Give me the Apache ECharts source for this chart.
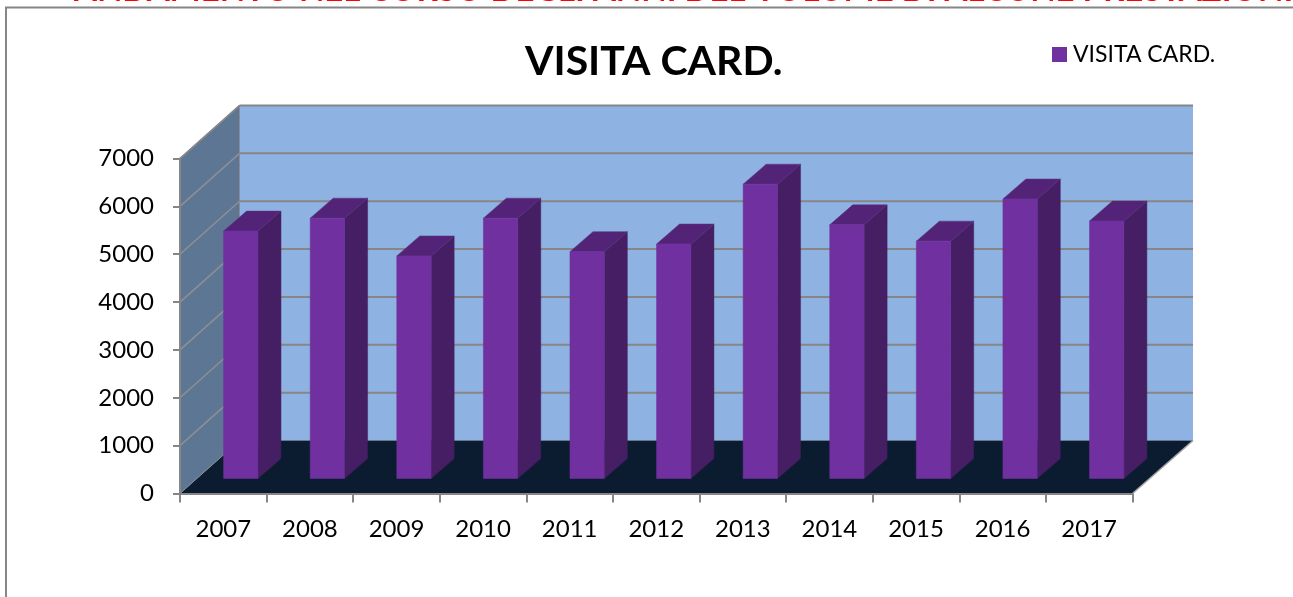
<!DOCTYPE html>
<html><head><meta charset="utf-8">
<style>html,body{margin:0;padding:0;background:#fff;overflow:hidden}#c{width:1293px;height:597px}</style>
<script src="https://cdn.jsdelivr.net/npm/echarts@6/dist/echarts.min.js"></script>
</head><body><div id="c"></div>
<script>
const categories = ['2007','2008','2009','2010','2011','2012','2013','2014','2015','2016','2017'];
const visitaCard = [5170,5440,4650,5440,4740,4900,6150,5300,4960,5840,5380];
const yTicks = [0,1000,2000,3000,4000,5000,6000,7000];
const seriesName = 'VISITA CARD.';
const pageTitle = 'ANDAMENTO NEL CORSO DEGLI ANNI DEL VOLUME DI ALCUNE PRESTAZIONI';

const WALL_DX = 59.5, WALL_DX_R = 60.5, WALL_DY = -53;
const BAR_DY = -15;
const SIDE_DX = 23, SIDE_DY = -20;
const GRID = '#868686';
const chart = echarts.init(document.getElementById('c'), null, {renderer:'canvas'});

function poly(points, fill, stroke, lw){
  return {type:'polygon', shape:{points}, style:{fill, stroke:stroke||fill, lineWidth:lw===undefined?0.5:lw}};
}
function line(x1,y1,x2,y2,color,w){
  return {type:'line', shape:{x1,y1,x2,y2}, style:{stroke:color,lineWidth:w,fill:null}};
}
function renderFrame(params, api){
  const x0 = params.coordSys.x, w = params.coordSys.width;
  const x1 = x0 + w;
  const y0 = api.coord([0,0])[1], yTop = api.coord([0,7000])[1];
  const ch = [];
  ch.push(poly([[x0+WALL_DX,yTop+WALL_DY],[x1+WALL_DX_R,yTop+WALL_DY],[x1+WALL_DX_R,y0+WALL_DY],[x0+WALL_DX,y0+WALL_DY]],'#8eb3e3','#8eb3e3',0));
  ch.push(poly([[x0,yTop],[x0+WALL_DX,yTop+WALL_DY],[x0+WALL_DX,y0+WALL_DY],[x0,y0]],'#5d7694','#5d7694',0));
  yTicks.forEach(t=>{
    const y = api.coord([0,t])[1];
    if (t>0) ch.push(line(x0+WALL_DX,y+WALL_DY,x1+WALL_DX_R,y+WALL_DY,GRID,2));
    if (t>0) ch.push(line(x0,y,x0+WALL_DX,y+WALL_DY,'#8c9094',1.5));
  });
  ch.push(poly([[x0,y0],[x1,y0],[x1+WALL_DX_R,y0+WALL_DY],[x0+WALL_DX,y0+WALL_DY]],'#0b1c31','#0b1c31',0));
  ch.push(line(x1,y0,x1+WALL_DX_R,y0+WALL_DY,'#a0a0a0',1.5));
  ch.push(line(x0+WALL_DX,y0+WALL_DY,x0,y0,'#8c9094',1));
  ch.push(line(x0+WALL_DX,yTop+WALL_DY,x0+WALL_DX,y0+WALL_DY,'#868686',0.8));
  ch.push(line(x0,yTop,x0+WALL_DX,yTop+WALL_DY,GRID,1.5));
  return {type:'group',children:ch};
}
function renderBar(params, api){
  const idx = api.value(0), val = api.value(1);
  const top = api.coord([idx,val]), base = api.coord([idx,0]);
  const bw = api.size([1,0])[0]*0.397;
  const l = top[0]+0.3, r = l+bw;
  const yt = top[1]+BAR_DY, yb = base[1]+BAR_DY;
  return {type:'group',children:[
    poly([[r,yt],[r+SIDE_DX,yt+SIDE_DY],[r+SIDE_DX,yb+SIDE_DY],[r,yb]],'#451e63','#451e63'),
    poly([[l,yt],[l+SIDE_DX,yt+SIDE_DY],[r+SIDE_DX,yt+SIDE_DY],[r,yt]],'#532377','#5a3583'),
    poly([[l,yt],[r,yt],[r,yb],[l,yb]],'#7030a0','#7030a0')
  ]};
}
chart.setOption({
  animation:false,
  backgroundColor:'#fff',
  title:[
    {text:pageTitle,left:74,top:-26,padding:0,textStyle:{color:'#ff0000',fontFamily:'Lato',fontWeight:'bold',fontSize:33}},
    {text:seriesName,left:525,top:41,padding:0,textStyle:{color:'#000',fontFamily:'Lato',fontWeight:'bold',fontSize:41}}
  ],
  legend:{show:true,left:1052,top:43,padding:0,itemWidth:15,itemHeight:15,itemGap:6,
    data:[{name:seriesName,icon:'rect',itemStyle:{color:'#7030a0'}}],
    textStyle:{color:'#000',fontFamily:'Lato',fontSize:23,padding:[0,0,0,1]}},
  grid:{left:180,top:158.5,width:952.5,height:335,containLabel:false},
  xAxis:{type:'category',data:categories,boundaryGap:true,
    axisLine:{show:true,lineStyle:{color:GRID,width:2}},
    axisTick:{show:true,alignWithLabel:false,length:9,lineStyle:{color:GRID,width:2}},
    axisLabel:{color:'#000',fontFamily:'Lato',fontSize:24,margin:24,interval:0},
    splitLine:{show:false},z:5},
  yAxis:{type:'value',min:0,max:7000,interval:1000,
    axisLine:{show:true,lineStyle:{color:GRID,width:2}},
    axisTick:{show:true,length:7,lineStyle:{color:GRID,width:2}},
    axisLabel:{color:'#000',fontFamily:'Lato',fontSize:24,margin:26,padding:[3,0,0,0],formatter:v=>String(v)},
    splitLine:{show:false},z:5},
  series:[
    {type:'custom',name:'frame',coordinateSystem:'cartesian2d',clip:false,silent:true,z:1,
      renderItem:renderFrame,data:[[0,0]],encode:{x:0,y:1}},
    {type:'custom',name:seriesName,coordinateSystem:'cartesian2d',clip:false,z:2,
      renderItem:renderBar,itemStyle:{color:'#7030a0'},
      data:visitaCard.map((v,i)=>[i,v]),encode:{x:0,y:1}}
  ],
  graphic:[
    {type:'polyline',silent:true,z:0,shape:{points:[[6,597],[6,7.5],[1293,7.5]]},style:{stroke:'#868686',lineWidth:2,fill:null}}
  ]
});
</script></body></html>
